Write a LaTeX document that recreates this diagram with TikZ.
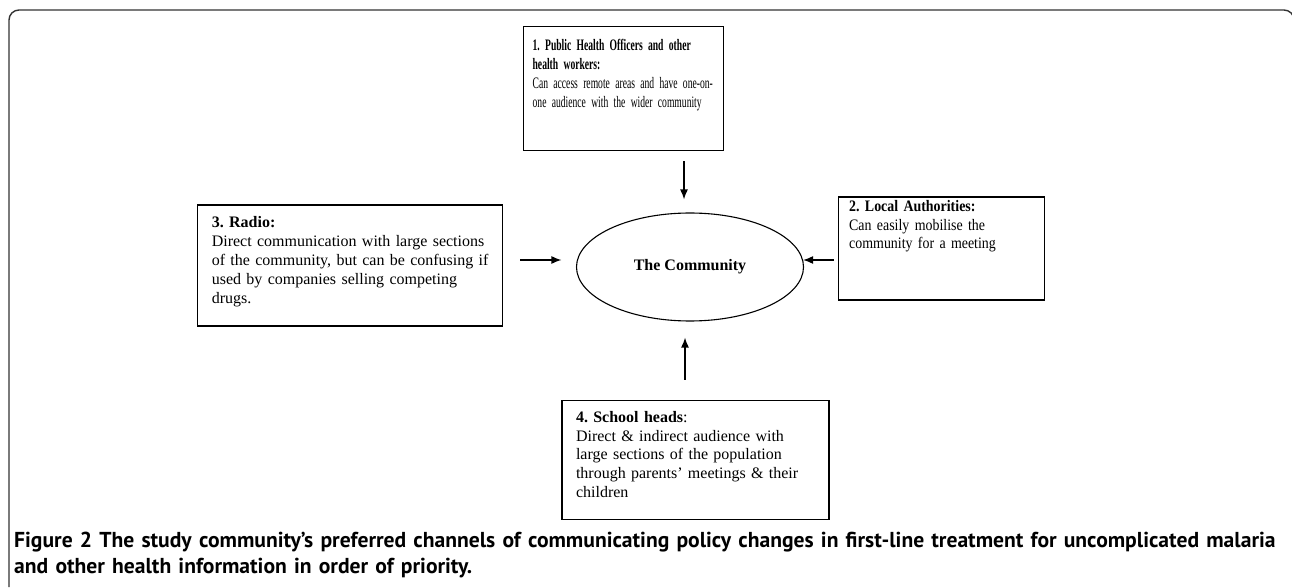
\documentclass[tikz,border=0pt]{standalone}
\usepackage{fontspec}
\setmainfont{Liberation Serif}
\newfontfamily\narrowfont[FakeStretch=0.6]{Liberation Serif}
\newfontfamily\semifont[FakeStretch=0.87]{Liberation Serif}
\newfontfamily\capfont{PT Sans}
\frenchspacing
\usepackage{tikz}
\usetikzlibrary{positioning}
\usetikzlibrary{arrows.meta}
\usetikzlibrary{shapes.geometric}

\tikzset{
  channel/.style={draw, line width=1.3pt, rectangle, align=left, inner ysep=0pt},
  boxfont/.style={font=\fontsize{16}{18.8}\selectfont},
  link/.style={->, >={Latex[length=10pt,width=8pt]}, line width=1.4pt},
}

\begin{document}
\begin{tikzpicture}[x=1pt, y=1pt]
\useasboundingbox (0,0) rectangle (1292,587);
% frame round the figure
\draw[line width=1.4pt, black!80, rounded corners=10pt] (9,0) -- (9,577) -- (1294,577) -- (1294,0);

\node (comm) [draw, ellipse, line width=1.1pt, minimum width=227pt, minimum height=108pt, inner sep=0pt,
  font=\fontsize{16}{18.8}\selectfont\bfseries] at (690,320) {The Community};

\node (pho) [channel, anchor=north west, inner xsep=9pt, text width=182pt,
  text height=24pt, text depth=100pt, font=\narrowfont\fontsize{16}{19}\selectfont] at (523,561)
  {\textbf{1. Public Health Officers and other}\\
   \textbf{health workers:}\\
   \mbox{Can access remote areas and have one-on-}\\
   \mbox{one audience with the wider community}};
\node (local) [channel, right=33.5pt of comm, yshift=18.5pt, inner xsep=11pt, text width=184pt,
  text height=15pt, text depth=88pt, font=\semifont\fontsize{16}{18.4}\selectfont]
  {\textbf{2. Local Authorities:}\\
   Can easily mobilise the\\
   community for a meeting};
\node (radio) [channel, boxfont, left=72.5pt of comm, yshift=1.5pt, inner xsep=14pt, text width=277pt,
  text height=23pt, text depth=98pt]
  {\textbf{3. Radio:}\\
   Direct communication with large sections\\
   of the community, but can be confusing if\\
   used by companies selling competing\\
   drugs.};
\node (school) [channel, boxfont, below=78pt of comm, xshift=5.5pt, inner xsep=14pt, text width=239pt,
  text height=22pt, text depth=97pt]
  {\textbf{4. School heads}:\\
   Direct \& indirect audience with\\
   large sections of the population\\
   through parents’ meetings \& their\\
   children};

\draw[link, shorten <=10pt, shorten >=13pt] ([xshift=-6pt]comm.north |- pho.south) -- ([xshift=-6pt]comm.north);
\draw[link, shorten <=4pt, shorten >=-1pt] ([yshift=7pt]comm.east -| local.west) -- ([yshift=7pt]comm.east);
\draw[link, shorten <=17pt, shorten >=14.5pt] ([yshift=7pt]comm.west -| radio.east) -- ([yshift=7pt]comm.west);
\draw[link, shorten <=20pt, shorten >=16pt] ([xshift=-5pt]comm.south |- school.north) -- ([xshift=-5pt]comm.south);

\node (cap) [anchor=base west, align=left, inner sep=0pt, text width=1275pt, text=black,
  font=\capfont\bfseries\fontsize{21.6}{26}\selectfont] at (14,40)
  {Figure 2 The study community’s preferred channels of communicating policy changes in first-line treatment for uncomplicated malaria\\
   and other health information in order of priority.};
\end{tikzpicture}
\end{document}
